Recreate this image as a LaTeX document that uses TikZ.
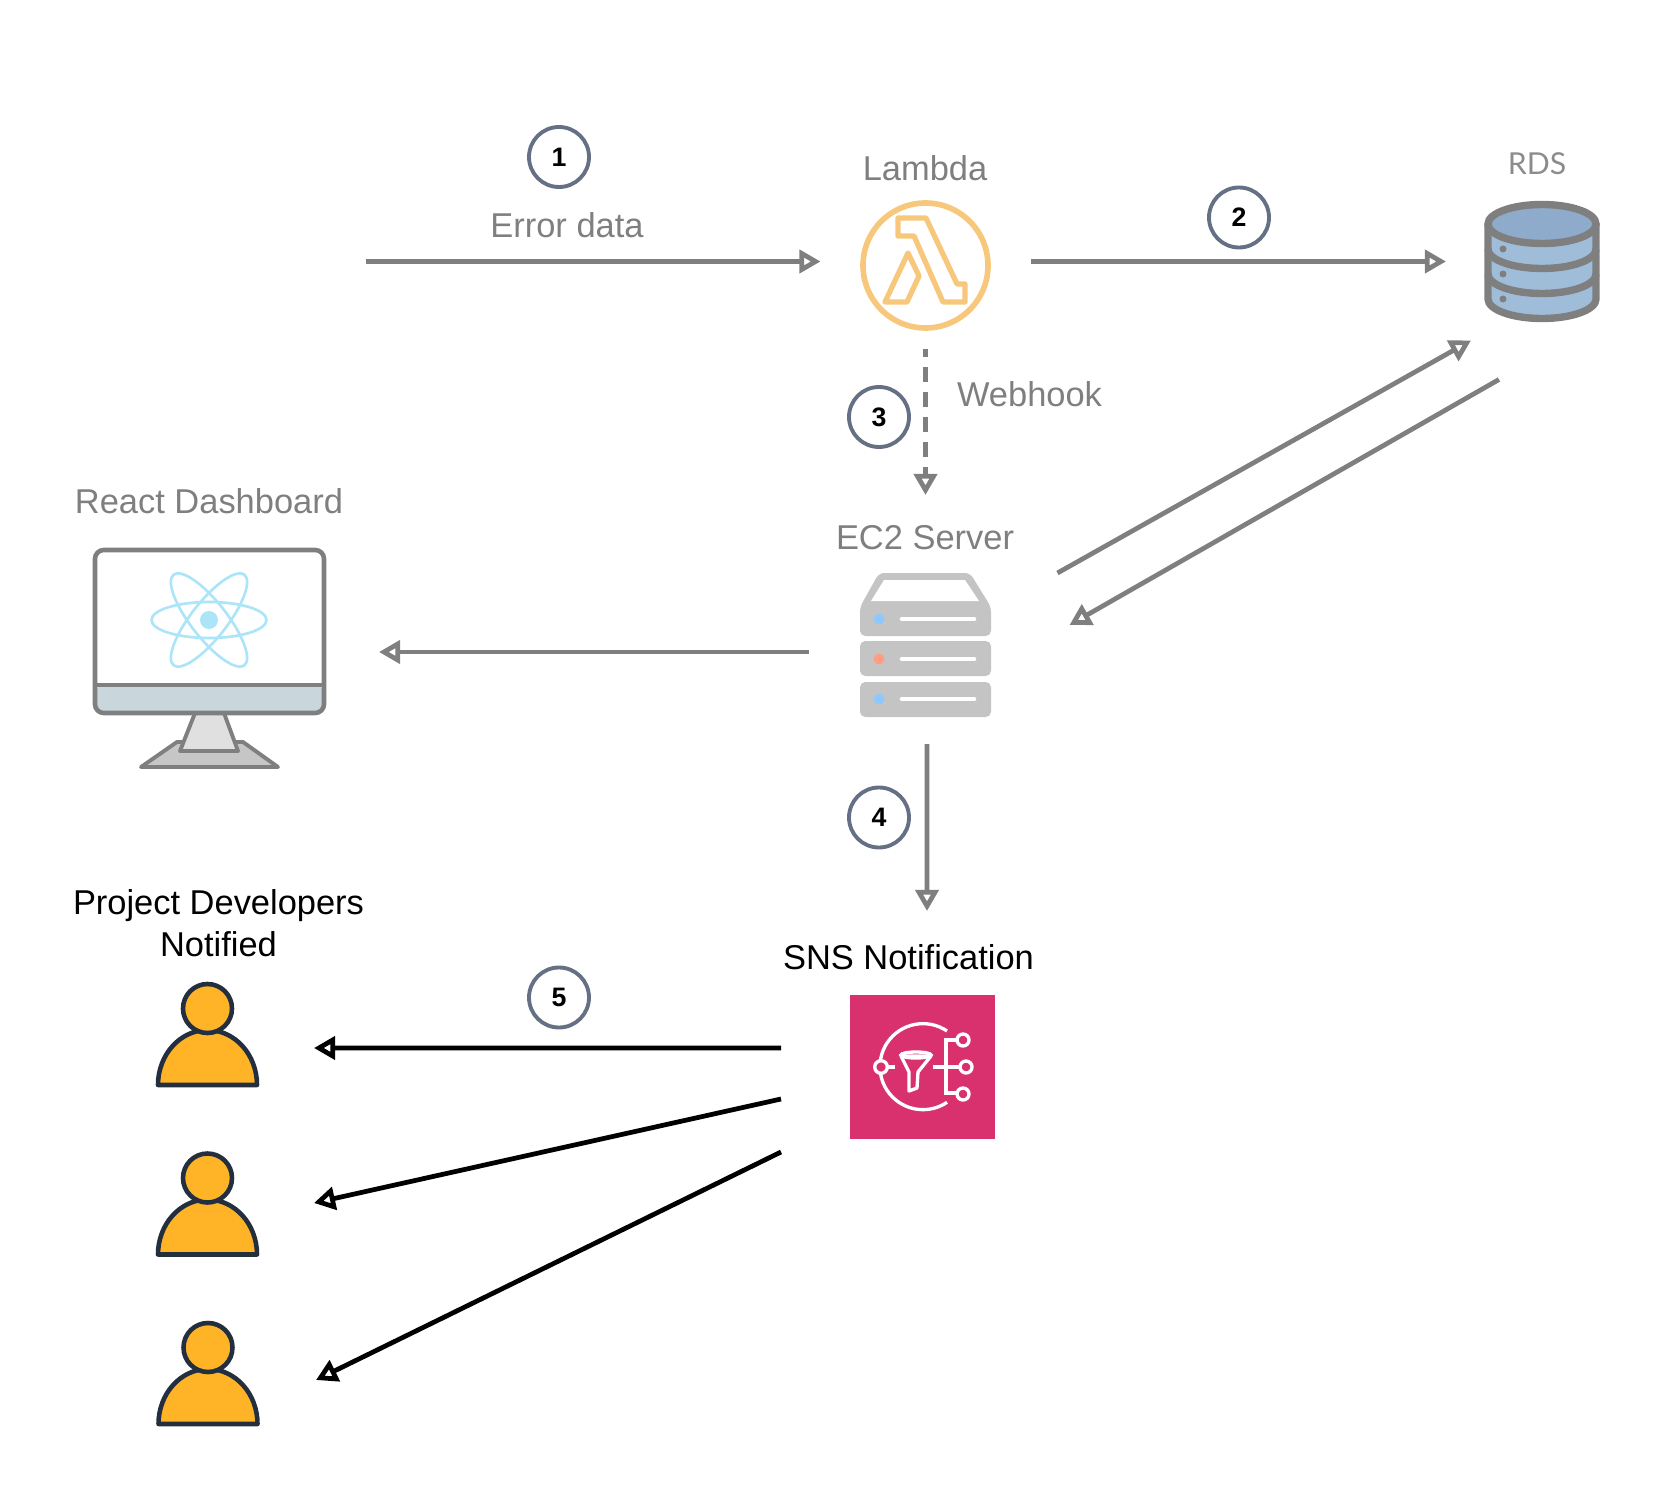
\documentclass[tikz,border=0pt]{standalone}
\usepackage{fontspec}
\setmainfont{Liberation Sans}
\newfontfamily\rdsfont{Lato}
\usetikzlibrary{arrows.meta, positioning, calc}
\definecolor{arrgray}{HTML}{7F7F7F}
\definecolor{badge}{HTML}{667085}
\definecolor{lamgold}{HTML}{F7C77C}
\definecolor{rdsblue}{HTML}{9FBDD9}
\definecolor{rdstop}{HTML}{8FABCB}
\definecolor{srvgray}{HTML}{C4C4C4}
\definecolor{ledblue}{HTML}{8FC8FF}
\definecolor{ledred}{HTML}{FF9D85}
\definecolor{reactcyan}{HTML}{ABE5F7}
\definecolor{screenbar}{HTML}{C9D7DD}
\definecolor{standlt}{HTML}{E0E0E0}
\definecolor{standdk}{HTML}{C6C6C6}
\definecolor{snspink}{HTML}{D9316D}
\definecolor{personfill}{HTML}{FFB326}
\definecolor{personline}{HTML}{232F3E}

\begin{document}
\begin{tikzpicture}[
  >={Triangle[open, length=6pt, width=6.5pt]},
  arr/.style={->, line width=1.35pt, arrgray},
  blackarr/.style={->, line width=1.35pt, black},
  badgenode/.style={
    circle, draw=badge, line width=1.1pt, minimum size=6mm, inner sep=0pt,
    font=\fontsize{7.6}{9}\selectfont\bfseries, text=black
  },
  lbl/.style={font=\fontsize{9.8}{11.9}\selectfont, text=arrgray, align=center, inner sep=0pt},
  blacklbl/.style={lbl, text=black},
  % empty boxes round the icons, the connectors stop at their borders
  iconbox/.style={inner sep=0pt, outer sep=0pt, minimum width=#1},
  snsline/.style={white, line width=0.95pt},
  person/.pic={
    \draw[personline, fill=personfill, line width=1.3pt, line join=round]
      (-0.495,-0.37) arc[start angle=180, end angle=0, x radius=0.495, y radius=0.55] -- cycle;
    \draw[personline, fill=personfill, line width=1.3pt] (0,0.395) circle (0.245);
  },
]

\useasboundingbox (0,0) rectangle (16.8,-14.9);

% =============================================
% Boxes the connectors attach to
% =============================================
\coordinate (errsrc) at (3.66,-2.615);
\node[iconbox=2.1cm, minimum height=1.75cm] (lambda) at (9.255,-2.615) {};
\node[iconbox=1.94cm, minimum height=1.4cm] (rds) at (15.43,-2.615) {};
\node[iconbox=2.34cm, minimum height=1.84cm] (ec2) at (9.255,-6.52) {};
\node[iconbox=3.4cm, minimum height=2.4cm] (react) at (2.09,-6.52) {};
\node[iconbox=2.83cm, minimum height=3.11cm] (sns) at (9.225,-10.665) {};
\node[iconbox=2.14cm, minimum height=1.1cm] (devA) at (2.07,-10.48) {};
\node[iconbox=2.14cm, minimum height=1.1cm] (devB) at (2.07,-12.03) {};
\node[iconbox=2.14cm, minimum height=1.1cm] (devC) at (2.09,-13.80) {};

% =============================================
% Lambda
% =============================================
\node[lbl] (lambdalbl) at (9.25,-1.68) {Lambda};
\draw[lamgold, line width=1.6pt] (9.255,-2.655) circle (0.625);
\draw[lamgold, line width=1.5pt, line join=round]
  (8.98,-2.18) -- (9.26,-2.18) -- (9.57,-2.84) -- (9.65,-2.84) -- (9.65,-3.02)
  -- (9.43,-3.02) -- (9.14,-2.36) -- (8.98,-2.36) -- cycle;
\draw[lamgold, line width=1.5pt, line join=round]
  (9.08,-2.53) -- (9.19,-2.76) -- (9.07,-3.02) -- (8.85,-3.02) -- cycle;

% =============================================
% RDS
% =============================================
\node[text=arrgray!90, font=\fontsize{8.6}{10}\selectfont\rdsfont, inner sep=0pt] (rdslbl) at (15.37,-1.64) {RDS};
\fill[rdsblue] (14.88,-2.24) -- (14.88,-2.99) arc[start angle=180, end angle=360, x radius=0.54, y radius=0.195]
  -- (15.96,-2.24) -- cycle;
\draw[arrgray, line width=2.1pt, fill=rdstop] (15.42,-2.24) ellipse (0.54 and 0.195);
\draw[arrgray, line width=2.1pt] (14.88,-2.24) -- (14.88,-2.99)
  arc[start angle=180, end angle=360, x radius=0.54, y radius=0.195] -- (15.96,-2.24);
\draw[arrgray, line width=2.1pt] (14.88,-2.49) arc[start angle=180, end angle=360, x radius=0.54, y radius=0.195];
\draw[arrgray, line width=2.1pt] (14.88,-2.74) arc[start angle=180, end angle=360, x radius=0.54, y radius=0.195];
\fill[arrgray] (15.03,-2.49) circle (0.035);
\fill[arrgray] (15.03,-2.74) circle (0.035);
\fill[arrgray] (15.03,-2.99) circle (0.035);

% =============================================
% EC2 server
% =============================================
\node[lbl] (ec2lbl) at (9.25,-5.38) {EC2 Server};
\fill[srvgray, rounded corners=1.5pt]
  (8.79,-5.73) -- (9.70,-5.73) -- (9.91,-6.07) -- (9.91,-6.36) -- (8.60,-6.36) -- (8.60,-6.07) -- cycle;
\fill[white] (8.84,-5.80) -- (9.65,-5.80) -- (9.79,-6.01) -- (8.71,-6.01) -- cycle;
\fill[srvgray, rounded corners=1.5pt] (8.60,-6.41) rectangle (9.91,-6.76);
\fill[srvgray, rounded corners=1.5pt] (8.60,-6.82) rectangle (9.91,-7.17);
\draw[white, line width=1.3pt, line cap=round] (9.02,-6.19) -- (9.74,-6.19);
\draw[white, line width=1.3pt, line cap=round] (9.02,-6.59) -- (9.74,-6.59);
\draw[white, line width=1.3pt, line cap=round] (9.02,-6.99) -- (9.74,-6.99);
\fill[ledblue] (8.79,-6.19) circle (0.055);
\fill[ledred] (8.79,-6.59) circle (0.055);
\fill[ledblue] (8.79,-6.99) circle (0.055);

% =============================================
% React dashboard
% =============================================
\node[lbl] (reactlbl) at (2.09,-5.01) {React Dashboard};
\draw[arrgray, line width=1.1pt, fill=standdk, line join=round]
  (1.41,-7.67) -- (1.77,-7.42) -- (2.43,-7.42) -- (2.78,-7.67) -- cycle;
\draw[arrgray, line width=1.1pt, fill=standlt, line join=round]
  (1.95,-7.13) -- (2.24,-7.13) -- (2.38,-7.51) -- (1.80,-7.51) -- cycle;
\fill[screenbar, rounded corners=2.5pt] (0.95,-6.85) -- (0.95,-7.13) -- (3.24,-7.13) -- (3.24,-6.85) -- cycle;
\draw[arrgray, line width=1.3pt, rounded corners=2.5pt] (0.95,-5.50) rectangle (3.24,-7.13);
\draw[arrgray, line width=1.3pt] (0.95,-6.85) -- (3.24,-6.85);
\draw[reactcyan, line width=0.75pt] (2.09,-6.20) ellipse (0.575 and 0.18);
\draw[reactcyan, line width=0.75pt, rotate around={52:(2.09,-6.20)}] (2.09,-6.20) ellipse (0.575 and 0.18);
\draw[reactcyan, line width=0.75pt, rotate around={-52:(2.09,-6.20)}] (2.09,-6.20) ellipse (0.575 and 0.18);
\fill[reactcyan] (2.09,-6.20) circle (0.09);

% =============================================
% SNS
% =============================================
\node[blacklbl] (snslbl) at (9.085,-9.57) {SNS Notification};
\fill[snspink] (8.50,-9.95) rectangle (9.95,-11.385);
\draw[snsline] (9.47,-10.31) arc[start angle=56, end angle=304, radius=0.43];
\draw[snsline, fill=snspink] (8.81,-10.67) circle (0.063);
\draw[snsline] (8.87,-10.67) -- (8.95,-10.67);
\draw[snsline, line join=round] (9.01,-10.56) -- (9.31,-10.56) -- (9.18,-10.72) -- (9.17,-10.88)
  -- (9.09,-10.91) -- (9.09,-10.72) -- cycle;
\draw[snsline] (9.16,-10.55) ellipse (0.15 and 0.03);
\draw[snsline] (9.33,-10.67) -- (9.60,-10.67);
\draw[snsline] (9.57,-10.40) -- (9.46,-10.40) -- (9.46,-10.93) -- (9.57,-10.93);
\draw[snsline] (9.63,-10.40) circle (0.06);
\draw[snsline] (9.66,-10.67) circle (0.06);
\draw[snsline] (9.63,-10.94) circle (0.06);

% =============================================
% Developers
% =============================================
\node[blacklbl] (devlbl) at (2.185,-9.23) {Project Developers\\Notified};
\pic at (2.075,-10.48) {person};
\pic at (2.075,-12.175) {person};
\pic at (2.08,-13.87) {person};

% =============================================
% Connectors
% =============================================
\draw[arr] (errsrc) -- (lambda.west);
\draw[arr] (lambda.east) -- (rds.west);
\draw[arr, dash pattern=on 4.3pt off 2.8pt, dash phase=2pt] (lambda.south) -- ([yshift=6.5mm]ec2.north);
\draw[arr] ([shift={(0.15,0.79)}]ec2.east) -- ([shift={(-0.72,-0.09)}]rds.south);
\draw[arr] ([shift={(-0.44,-0.48)}]rds.south) -- ([shift={(0.27,0.27)}]ec2.east);
\draw[arr] (ec2.west) -- (react.east);
\draw[arr] ([xshift=0.15mm]ec2.south) -- ([xshift=0.45mm]sns.north);
\draw[blackarr] ([yshift=1.85mm]sns.west) -- (devA.east);
\draw[blackarr] ([yshift=-3.25mm]sns.west) -- (devB.east);
\draw[blackarr] ([yshift=-8.55mm]sns.west) -- (devC.east);

% =============================================
% Labels and numbered badges
% =============================================
\node[lbl] (errlbl) at (5.67,-2.25) {Error data};
\node[lbl] (hooklbl) at (10.295,-3.945) {Webhook};
\node[badgenode] (stepA) at (5.59,-1.57) {1};
\node[badgenode] (stepB) at (12.39,-2.175) {2};
\node[badgenode] (stepC) at (8.79,-4.17) {3};
\node[badgenode] (stepD) at (8.79,-8.175) {4};
\node[badgenode] (stepE) at (5.59,-9.975) {5};

\end{tikzpicture}
\end{document}
